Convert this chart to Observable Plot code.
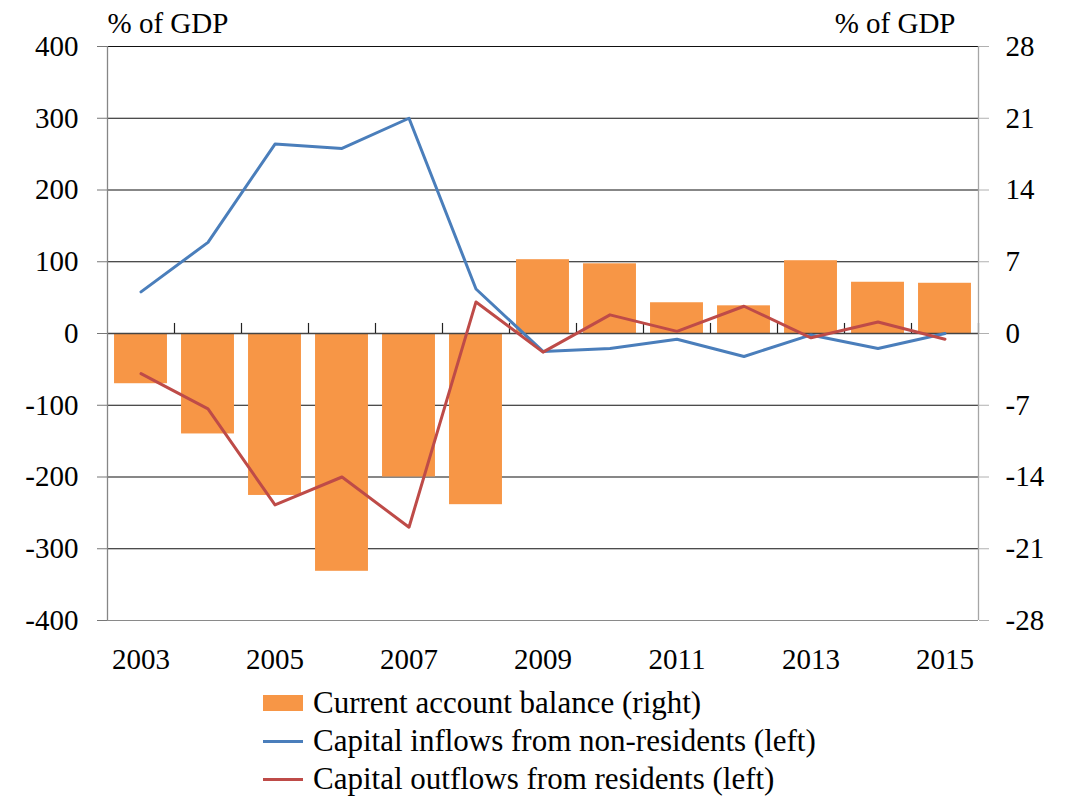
<!DOCTYPE html>
<html>
<head>
<meta charset="utf-8">
<script src="https://cdn.jsdelivr.net/npm/d3@7"></script>
<script src="https://cdn.jsdelivr.net/npm/@observablehq/plot@0.6"></script>
<style>
  html, body { margin: 0; padding: 0; background: #fff; }
  #chart svg { display: block; }
  .legend { font-family: "Liberation Serif", "LiberationSerif", "Times New Roman", "Tinos", "Nimbus Roman", "DejaVu Serif", serif; font-size: 31px; color: #000; padding-left: 263px; }
  .legend .row { display: flex; align-items: center; height: 38px; line-height: 38px; white-space: nowrap; }
  .legend .sw { width: 40px; margin-right: 10px; flex: none; }
</style>
</head>
<body>
<div id="chart"></div>
<div class="legend" id="legend"></div>
<script>
// Data
const years = [2003, 2004, 2005, 2006, 2007, 2008, 2009, 2010, 2011, 2012, 2013, 2014, 2015];
const currentAccount = [-4.9, -9.8, -15.8, -23.2, -14.0, -16.7, 7.2, 6.8, 3.0, 2.7, 7.1, 5.0, 4.9]; // right axis, % of GDP
const inflows = [58, 127, 264, 258, 300, 62, -25, -21, -8, -32, -2, -21, 0];   // left axis, % of GDP
const outflows = [-56, -105, -239, -200, -270, 44, -26, 26, 3, 38, -6, 16, -8]; // left axis, % of GDP
const leftTicks = [-400, -300, -200, -100, 0, 100, 200, 300, 400];
const xTickLabels = [2003, 2005, 2007, 2009, 2011, 2013, 2015];
const seriesNames = ["Current account balance (right)", "Capital inflows from non-residents (left)", "Capital outflows from residents (left)"];
const colors = ["#F79646", "#4A7EBB", "#BE4B48"];

const serif = "'Liberation Serif', 'LiberationSerif', 'Times New Roman', 'Tinos', 'Nimbus Roman', 'DejaVu Serif', serif";
const rightToLeft = 400 / 28; // right axis 28 <-> left axis 400

const caData = years.map((y, i) => ({year: y, value: currentAccount[i]}));
const inData = years.map((y, i) => ({year: y, value: inflows[i]}));
const outData = years.map((y, i) => ({year: y, value: outflows[i]}));
const boundaries = years.map(y => y + 0.5);
const halfBar = 0.395;

const plot = Plot.plot({
  width: 1068,
  height: 684,
  marginTop: 46,
  marginBottom: 64,
  marginLeft: 107,
  marginRight: 90,
  style: {fontFamily: serif, fontSize: "29px", color: "#000", background: "#fff"},
  x: {domain: [2002.5, 2015.5], label: null},
  y: {domain: [-400, 400], label: null},
  marks: [
    Plot.ruleY(leftTicks.filter(d => d !== 0 && d !== -400), {stroke: "#111", strokeWidth: 1.2}),
    Plot.ruleY([-400], {stroke: "#8a8a8a", strokeWidth: 1.2}),
    Plot.rectY(caData, {x1: d => d.year - halfBar, x2: d => d.year + halfBar, y1: 0, y2: d => d.value * rightToLeft, fill: colors[0]}),
    Plot.ruleY([0], {stroke: "#444", strokeWidth: 1.3}),
    Plot.ruleX(boundaries, {y1: 0, y2: 14, stroke: "#222", strokeWidth: 1.2}),
    Plot.ruleX([2002.5], {stroke: "#868686", strokeWidth: 1.3}),
    Plot.ruleX([2015.5], {stroke: "#a6a6a6", strokeWidth: 1.3}),
    Plot.lineY(inData, {x: "year", y: "value", stroke: colors[1], strokeWidth: 3}),
    Plot.lineY(outData, {x: "year", y: "value", stroke: colors[2], strokeWidth: 3}),
    Plot.axisY({anchor: "left", ticks: leftTicks, tickSize: 10, tickPadding: 19, tickFormat: d => String(d), stroke: "#777", fill: "#000", fontFamily: serif, label: null}),
    Plot.axisY({anchor: "right", ticks: leftTicks, tickSize: 10, tickPadding: 17, tickFormat: d => String(Math.round(d / rightToLeft)), stroke: "#b0b0b0", fill: "#000", fontFamily: serif, label: null}),
    Plot.axisX({anchor: "bottom", ticks: xTickLabels, tickSize: 0, tickPadding: 28, tickFormat: d => String(d), fill: "#000", fontFamily: serif, label: null}),
    Plot.text(["% of GDP"], {frameAnchor: "top-left", textAnchor: "start", lineAnchor: "bottom", dy: -14, fill: "#000", fontFamily: serif}),
    Plot.text(["% of GDP"], {frameAnchor: "top-right", textAnchor: "end", lineAnchor: "bottom", dx: -23, dy: -14, fill: "#000", fontFamily: serif})
  ]
});
document.getElementById("chart").appendChild(plot);

// Legend
const legend = document.getElementById("legend");
seriesNames.forEach((name, i) => {
  const row = document.createElement("div");
  row.className = "row";
  const sw = document.createElement("span");
  sw.className = "sw";
  if (i === 0) {
    sw.style.height = "16px";
    sw.style.background = colors[0];
  } else {
    sw.style.height = "3px";
    sw.style.background = colors[i];
  }
  const t = document.createElement("span");
  t.textContent = name;
  row.appendChild(sw);
  row.appendChild(t);
  legend.appendChild(row);
});
</script>
</body>
</html>
